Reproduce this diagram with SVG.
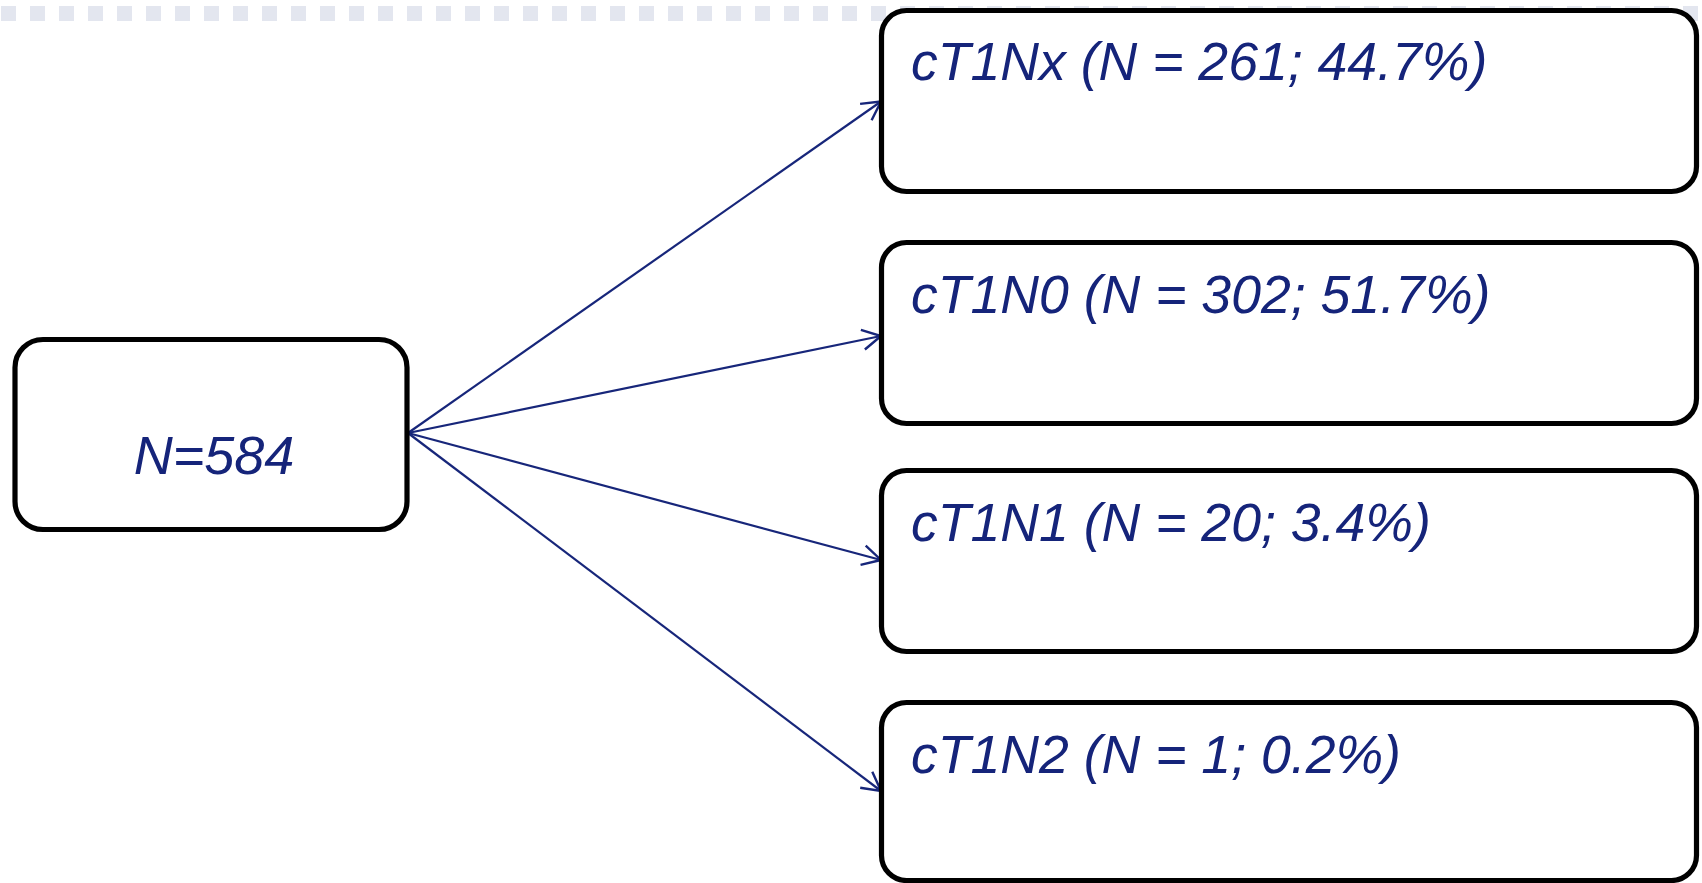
<svg xmlns="http://www.w3.org/2000/svg" width="1702" height="883" viewBox="0 0 1702 883">
<style>
.node{fill:#fff;stroke:#000;stroke-width:5.2}
.lbl{font-family:"Liberation Sans",Arial,sans-serif;font-style:italic;fill:#15247a;font-size:53.6px}
.edge{stroke:#17267a;stroke-width:2.2;fill:none;marker-end:url(#arr)}
</style>
<defs>
<marker id="arr" markerUnits="userSpaceOnUse" viewBox="-22 -12 24 24" refX="0" refY="0" markerWidth="24" markerHeight="24" orient="auto">
<path d="M-18.5,-10 L0,0 L-18.5,10" fill="none" stroke="#17267a" stroke-width="2.4"/>
</marker>
</defs>
<rect width="1702" height="883" fill="#fff"/>
<line x1="1" y1="13.5" x2="1702" y2="13.5" stroke="#e3e6ef" stroke-width="15" stroke-dasharray="15 14"/>
<g id="connectors">
<line class="edge" x1="408" y1="433" x2="881" y2="101.5"/>
<line class="edge" x1="408" y1="433" x2="881" y2="336"/>
<line class="edge" x1="408" y1="433" x2="881" y2="560"/>
<line class="edge" x1="408" y1="433" x2="881" y2="791"/>
</g>
<g id="root">
<rect class="node" x="15" y="339.5" width="392" height="190" rx="28" ry="28"/>
<text class="lbl" x="214" y="474" text-anchor="middle" style="font-size:54px">N=584</text>
</g>
<g id="n_x">
<rect class="node" x="881.5" y="10.5" width="815" height="181" rx="25" ry="25"/>
<text class="lbl" x="911" y="80">cT1Nx (N = 261; 44.7%)</text>
</g>
<g id="n_0">
<rect class="node" x="881.5" y="242.5" width="815" height="181" rx="25" ry="25"/>
<text class="lbl" x="911" y="313">cT1N0 (N = 302; 51.7%)</text>
</g>
<g id="n_1">
<rect class="node" x="881.5" y="470.5" width="815" height="181" rx="25" ry="25"/>
<text class="lbl" x="911" y="541">cT1N1 (N = 20; 3.4%)</text>
</g>
<g id="n_2">
<rect class="node" x="881.5" y="702.5" width="815" height="178" rx="25" ry="25"/>
<text class="lbl" x="911" y="773">cT1N2 (N = 1; 0.2%)</text>
</g>
</svg>
